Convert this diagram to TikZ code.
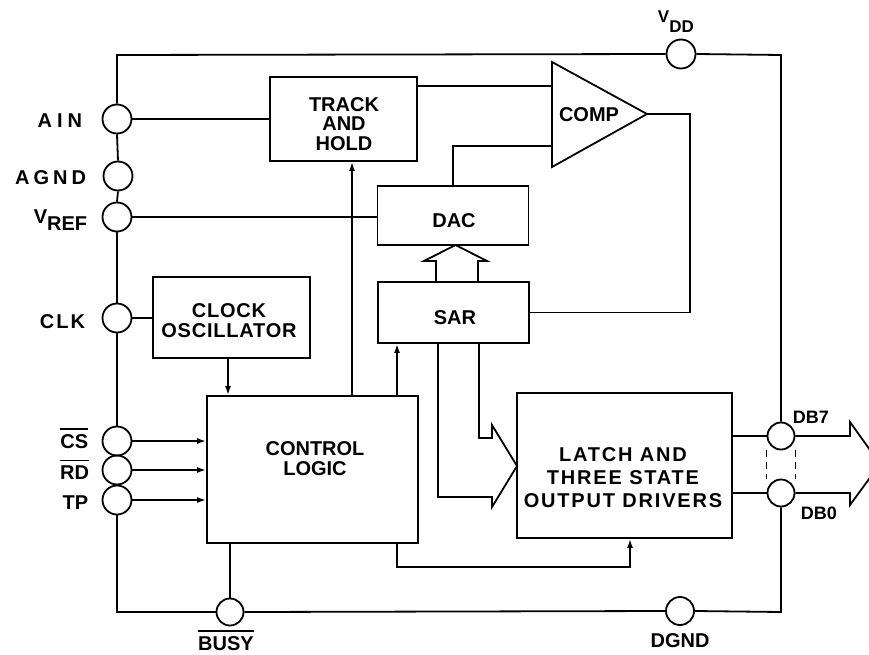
\documentclass[tikz,border=0pt]{standalone}
\usepackage{fontspec}
\setmainfont{Liberation Sans}
\usetikzlibrary{arrows.meta,calc}
\newcommand\fs{\fontsize{20}{20}\selectfont\bfseries}
\newcommand\ovl[1]{\vbox{\hrule height 1.6pt\kern 4pt\hbox{#1}}}
\begin{document}
\begin{tikzpicture}[x=1pt,y=-1pt,line width=1.8pt,
  box/.style={draw,inner sep=0pt},
  pin/.style={draw,circle,minimum size=29pt,inner sep=0pt},
  dpin/.style={draw,circle,minimum size=27pt,inner sep=0pt},
  lbl/.style={inner sep=0pt,font=\fs,align=center},
  arr/.style={-{Latex[length=9pt,width=6pt]}}]
\clip (0,0) rectangle (869,655);
\fill[white] (0,0) rectangle (869,655);

% pins
\node[pin] (AIN) at (117,119) {};
\node[pin] (AGND) at (118,176) {};
\node[pin] (VREF) at (117,217) {};
\node[pin] (CLK) at (117,318) {};
\node[pin] (CS) at (117,441) {};
\node[pin] (RD) at (117,470) {};
\node[pin] (TP) at (117,500) {};
\node[pin,minimum size=27pt] (BUSY) at (230,612) {};
\node[pin,minimum size=28pt] (DGND) at (680,611) {};
\node[pin] (VDD) at (681,54) {};
\node[dpin] (DB7) at (781,436) {};
\node[dpin] (DB0) at (781,493) {};

% frame coordinates
\coordinate (tl) at (117,55);
\coordinate (tr) at (781,55);
\coordinate (bl) at (117,612);
\coordinate (br) at (781,612);

% boxes
\node[box,minimum width=147pt,minimum height=84pt] (TH) at (343.5,119) {};
\node[box,minimum width=151pt,minimum height=59pt] (DAC) at (453,215.5) {};
\node[box,minimum width=151pt,minimum height=61pt] (SAR) at (453.5,312.5) {};
\node[box,minimum width=157pt,minimum height=81pt] (OSC) at (231.5,317.5) {};
\node[box,minimum width=211pt,minimum height=147pt] (CL) at (312.5,469.5) {};
\node[box,minimum width=215pt,minimum height=145pt] (LATCH) at (624.5,465.5) {};

% comparator
\coordinate (c1) at (552,62);
\coordinate (c2) at (552,167);
\coordinate (ctip) at (647,114);
\draw[line join=miter] (c1) -- (ctip) -- (c2) -- cycle;
\coordinate (cin1) at (552,86);
\coordinate (cin2) at (552,146);
\coordinate (fb) at (690,0);

% box texts
\node[lbl,font=\fontsize{20}{19.5}\selectfont\bfseries] (tTH) at (344,124) {TRACK\\AND\\HOLD};
\node[lbl] (tDAC) at (454,221) {DAC};
\node[lbl] (tSAR) at (455,317.5) {SAR};
\node[lbl] (tCOMP) at (589,115) {COMP};
\node[lbl,font=\fontsize{20}{20}\selectfont\bfseries\addfontfeature{LetterSpace=4}] (tOSC) at (229,320.5) {CLOCK\\OSCILLATOR};
\node[lbl] (tCL) at (315,459) {CONTROL\\LOGIC};
\node[lbl,font=\fontsize{20}{23}\selectfont\bfseries\addfontfeature{LetterSpace=9}] (tLATCH) at (623,478) {LATCH AND\\THREE STATE\\OUTPUT DRIVERS};

% pin labels
\node[lbl,anchor=base east] (lAIN) at (83,128) {A\hspace{5pt}I\hspace{5pt}N};
\node[lbl,anchor=base east] (lAGND) at (87,185) {A\hspace{4pt}G\hspace{4pt}N\hspace{4pt}D};
\node[lbl,anchor=base east] (lVREF) at (88,223) {V\raisebox{-7pt}{REF}};
\node[lbl,anchor=base east] (lCLK) at (86,328) {C\hspace{2pt}L\hspace{2pt}K};
\node[lbl,anchor=base east] (lCS) at (89,448) {\ovl{CS}};
\node[lbl,anchor=base east] (lRD) at (90,479) {\ovl{RD}};
\node[lbl,anchor=base east] (lTP) at (89,509) {TP};
\node[lbl,anchor=base] (lBUSY) at (226,650) {\ovl{BUSY}};
\node[lbl,anchor=base] (lDGND) at (680,647) {DGND};
\node[lbl,anchor=base west,font=\fontsize{17}{17}\selectfont\bfseries] (lVDD) at (657,23) {V\raisebox{-10pt}{DD}};
\node[lbl,anchor=base west,font=\fontsize{18}{18}\selectfont\bfseries] (lDB7) at (792,423) {DB7};
\node[lbl,anchor=base west,font=\fontsize{18}{18}\selectfont\bfseries] (lDB0) at (800,519) {DB0};

% outer frame / supply lines
\draw (AIN.north) -- (tl) -- (VDD.west);
\draw (VDD.east) -- (tr) -- (DB7.north);
\draw (AIN.south) -- (AGND.north);
\draw (AGND.south) -- (VREF.north);
\draw (VREF.south) -- (CLK.north);
\draw (CLK.south) -- (CS.north);
\draw (TP.south) -- (bl) -- (BUSY.west);
\draw (BUSY.east) -- (DGND.west);
\draw (DGND.east) -- (br) -- (DB0.south);

% signal lines
\draw (AIN.east) -- (AIN.east -| TH.west);
\draw (VREF.east) -- (VREF.east -| DAC.west);
\draw (CLK.east) -- (CLK.east -| OSC.west);
\draw (TH.east |- cin1) -- (cin1);
\draw (DAC.north) |- (cin2);
\draw (ctip) -| (fb |- SAR.east) -- (SAR.east);

\foreach \p in {CS,RD,TP} \draw[arr] (\p.east) -- (\p.east -| CL.west);

\coordinate (x228) at (228,0);
\coordinate (x352) at (352,0);
\coordinate (x397) at (397,0);
\coordinate (x630) at (630,567);
\draw[arr] (x228 |- OSC.south) -- (x228 |- CL.north);
\draw[arr] (x352 |- CL.north) -- (x352 |- TH.south);
\draw[arr] (x397 |- CL.north) -- (x397 |- SAR.south);
\draw[arr] (x397 |- CL.south) |- (x630) -- (x630 |- LATCH.south);
\draw (BUSY.north |- CL.south) -- (BUSY.north);

% bus arrow SAR -> DAC
\draw[line join=miter] (436,282) -- (436,261) -- (424,261) -- (455.5,245) -- (487,261) -- (478,261) -- (478,282);
% bus arrow SAR -> LATCH
\draw[line join=miter] (479,343) -- (479,438) -- (492,438) -- (492,425) -- (517,466) -- (492,507) -- (492,497) -- (438,497) -- (438,343);

% outputs
\draw (DB7.west -| LATCH.east) -- (DB7.west);
\draw (DB0.west -| LATCH.east) -- (DB0.west);
\draw[line width=1.4pt,dash pattern=on 7pt off 5pt] (DB7.west |- DB7.south) -- (DB7.west |- DB0.north);
\draw[line width=1.4pt,dash pattern=on 7pt off 5pt] (DB7.east |- DB7.south) -- (DB7.east |- DB0.north);
\draw[line join=miter] (DB7.east) -- (850,436) -- (850,422) -- (880,464) -- (850,505) -- (850,493) -- (DB0.east);
\end{tikzpicture}
\end{document}
